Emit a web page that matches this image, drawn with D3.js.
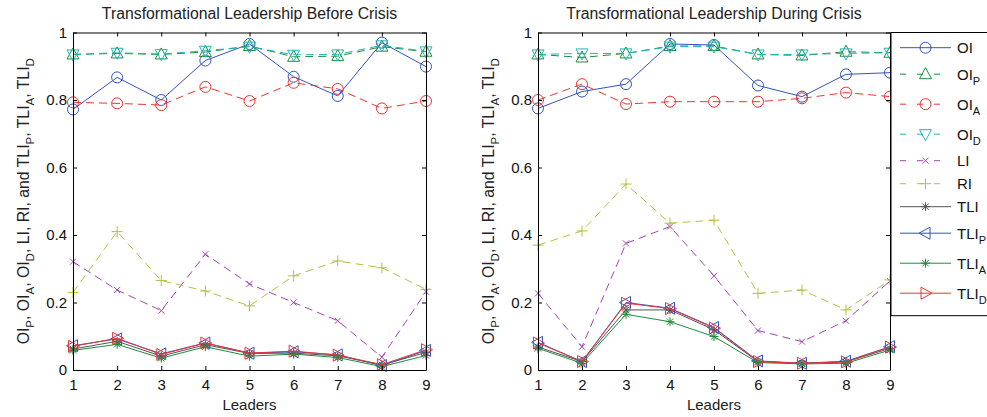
<!DOCTYPE html>
<html>
<head>
<meta charset="utf-8">
<script src="https://cdn.jsdelivr.net/npm/d3@7"></script>
<style>
  html, body { margin: 0; padding: 0; background: #fff; }
  svg { display: block; font-family: "Liberation Sans", Arial, Helvetica, sans-serif; }
</style>
</head>
<body>
<svg id="chart" width="987" height="417"></svg>
<script>
// Leaders on the x axis
const leaders = [1, 2, 3, 4, 5, 6, 7, 8, 9];
const yTicks = [0, 0.2, 0.4, 0.6, 0.8, 1];

// Before crisis
const beforeOI   = [0.772, 0.867, 0.800, 0.917, 0.966, 0.869, 0.812, 0.970, 0.899];
const beforeOIP  = [0.935, 0.938, 0.935, 0.942, 0.960, 0.928, 0.930, 0.958, 0.943];
const beforeOIA  = [0.793, 0.790, 0.785, 0.839, 0.797, 0.851, 0.833, 0.775, 0.797];
const beforeOID  = [0.935, 0.940, 0.936, 0.946, 0.958, 0.934, 0.935, 0.962, 0.944];
const beforeLI   = [0.321, 0.237, 0.176, 0.343, 0.255, 0.200, 0.146, 0.038, 0.232];
const beforeRI   = [0.230, 0.410, 0.265, 0.234, 0.190, 0.279, 0.323, 0.303, 0.239];
const beforeTLI  = [0.062, 0.085, 0.041, 0.075, 0.049, 0.050, 0.042, 0.015, 0.052];
const beforeTLIP = [0.072, 0.092, 0.048, 0.080, 0.050, 0.054, 0.045, 0.013, 0.058];
const beforeTLIA = [0.058, 0.076, 0.035, 0.069, 0.041, 0.047, 0.037, 0.010, 0.043];
const beforeTLID = [0.070, 0.094, 0.046, 0.080, 0.050, 0.056, 0.044, 0.016, 0.060];

// During crisis
const duringOI   = [0.775, 0.825, 0.847, 0.966, 0.963, 0.843, 0.810, 0.876, 0.881];
const duringOIP  = [0.935, 0.926, 0.938, 0.960, 0.960, 0.935, 0.932, 0.943, 0.940];
const duringOIA  = [0.800, 0.847, 0.788, 0.795, 0.795, 0.795, 0.805, 0.822, 0.810];
const duringOID  = [0.935, 0.938, 0.938, 0.958, 0.958, 0.935, 0.935, 0.938, 0.940];
const duringLI   = [0.227, 0.069, 0.375, 0.425, 0.279, 0.117, 0.084, 0.146, 0.264];
const duringRI   = [0.370, 0.412, 0.551, 0.435, 0.444, 0.227, 0.237, 0.178, 0.267];
const duringTLI  = [0.068, 0.025, 0.178, 0.178, 0.119, 0.025, 0.020, 0.024, 0.064];
const duringTLIP = [0.082, 0.025, 0.200, 0.183, 0.126, 0.027, 0.020, 0.026, 0.069];
const duringTLIA = [0.064, 0.020, 0.165, 0.143, 0.099, 0.022, 0.018, 0.020, 0.059];
const duringTLID = [0.080, 0.025, 0.198, 0.182, 0.124, 0.025, 0.020, 0.024, 0.068];

// Series names: [base, subscript]
const seriesNames = [["OI",""],["OI","P"],["OI","A"],["OI","D"],["LI",""],["RI",""],["TLI",""],["TLI","P"],["TLI","A"],["TLI","D"]];

// Drawing styles per series
const styles = [
  { color: "#3352c0", dash: null,  marker: "o" },
  { color: "#1e8c3c", dash: "8,5", marker: "^" },
  { color: "#ee3333", dash: "8,5", marker: "o" },
  { color: "#1fb7b7", dash: "8,5", marker: "v" },
  { color: "#a043b2", dash: "8,5", marker: "x" },
  { color: "#b9bf3c", dash: "8,5", marker: "+" },
  { color: "#555555", dash: null,  marker: "*" },
  { color: "#3352c0", dash: null,  marker: "<" },
  { color: "#1e8c3c", dash: null,  marker: "*" },
  { color: "#ee3333", dash: null,  marker: ">" }
];

const panels = [
  { title: "Transformational Leadership Before Crisis", left: 73, right: 426,
    series: [beforeOI, beforeOIP, beforeOIA, beforeOID, beforeLI, beforeRI, beforeTLI, beforeTLIP, beforeTLIA, beforeTLID] },
  { title: "Transformational Leadership During Crisis", left: 538, right: 890,
    series: [duringOI, duringOIP, duringOIA, duringOID, duringLI, duringRI, duringTLI, duringTLIP, duringTLIA, duringTLID] }
];

const plotTop = 32.5, plotBottom = 370;
const svg = d3.select("#chart");

function markerPath(type) {
  switch (type) {
    case "^": return "M0,-6.5L6,4.5L-6,4.5Z";
    case "v": return "M0,6.5L6,-4.5L-6,-4.5Z";
    case "<": return "M-6.5,0L4.5,-6L4.5,6Z";
    case ">": return "M6.5,0L-4.5,-6L-4.5,6Z";
    case "x": return "M-3,-3L3,3M-3,3L3,-3";
    case "+": return "M-5.5,0L5.5,0M0,-5.5L0,5.5";
    case "*": return "M-4.5,0L4.5,0M0,-4.5L0,4.5M-3.2,-3.2L3.2,3.2M-3.2,3.2L3.2,-3.2";
  }
  return null;
}

function drawMarker(g, type, color, cx, cy) {
  if (type === "o") {
    g.append("circle").attr("cx", cx).attr("cy", cy).attr("r", 5.5)
      .attr("fill", "none").attr("stroke", color).attr("stroke-width", 1);
  } else {
    g.append("path").attr("transform", `translate(${cx},${cy})`)
      .attr("d", markerPath(type)).attr("fill", "none")
      .attr("stroke", color).attr("stroke-width", 1);
  }
}

// Writes text parts with subscripts; the baseline is restored on the following part
function addLabel(sel, parts, baseSize, subSize, subShift) {
  let lowered = false;
  parts.forEach(([base, sub]) => {
    const b = sel.append("tspan").attr("font-size", baseSize).text(base);
    if (lowered) { b.attr("dy", -subShift); lowered = false; }
    if (sub) {
      sel.append("tspan").attr("font-size", subSize).attr("dy", subShift).text(sub);
      lowered = true;
    }
  });
}

panels.forEach(p => {
  const x = d3.scaleLinear().domain([1, 9]).range([p.left, p.right]);
  const y = d3.scaleLinear().domain([0, 1]).range([plotBottom, plotTop]);
  const g = svg.append("g");

  // series
  const line = d3.line().x((d, i) => x(leaders[i])).y(d => y(d));
  p.series.forEach((vals, si) => {
    const st = styles[si];
    const sg = g.append("g");
    sg.append("path").datum(vals).attr("d", line).attr("fill", "none")
      .attr("stroke", st.color).attr("stroke-width", 1)
      .attr("stroke-dasharray", st.dash);
    vals.forEach((v, i) => drawMarker(sg, st.marker, st.color, x(leaders[i]), y(v)));
  });

  // frame and axes
  const axisStyle = a => a.tickSizeOuter(0).tickSizeInner(-4);
  const gb = g.append("g").attr("transform", `translate(0,${plotBottom})`)
    .call(axisStyle(d3.axisBottom(x).tickValues(leaders).tickFormat(d3.format("d"))).tickPadding(9));
  const gl = g.append("g").attr("transform", `translate(${p.left},0)`)
    .call(axisStyle(d3.axisLeft(y).tickValues(yTicks).tickFormat(d => d === 0 || d === 1 ? d3.format("d")(d) : d3.format(".1f")(d))).tickPadding(6));
  const gt = g.append("g").attr("transform", `translate(0,${plotTop})`)
    .call(axisStyle(d3.axisTop(x).tickValues(leaders).tickFormat("")));
  const gr = g.append("g").attr("transform", `translate(${p.right},0)`)
    .call(axisStyle(d3.axisRight(y).tickValues(yTicks).tickFormat("")));
  [gb, gl, gt, gr].forEach(a => {
    a.selectAll("path.domain").attr("stroke", "#000").attr("stroke-width", 1);
    a.selectAll("line").attr("stroke", "#000");
    a.selectAll("text").attr("font-size", 15).attr("fill", "#111")
      .attr("font-family", "'Liberation Sans', Arial, sans-serif");
  });

  // title
  g.append("text").attr("x", (p.left + p.right) / 2).attr("y", 19)
    .attr("text-anchor", "middle").attr("font-size", 15.8).attr("fill", "#222")
    .text(p.title);

  // x label
  g.append("text").attr("x", (p.left + p.right) / 2).attr("y", 410)
    .attr("text-anchor", "middle").attr("font-size", 15).attr("fill", "#222")
    .text("Leaders");

  // y label
  const yl = g.append("text")
    .attr("transform", `translate(${p.left - 44},${(plotTop + plotBottom) / 2}) rotate(-90)`)
    .attr("text-anchor", "middle").attr("fill", "#222");
  const labelParts = [["OI","P"],[", OI","A"],[", OI","D"],[", LI, RI, and TLI","P"],[", TLI","A"],[", TLI","D"]];
  addLabel(yl, labelParts, 15.8, 11.5, 5);
});

// legend
const legX = 891, legTop = 32.5, legBottom = 315.7;
const leg = svg.append("g");
leg.append("rect").attr("x", legX).attr("y", legTop).attr("width", 120).attr("height", legBottom - legTop)
  .attr("fill", "#fff").attr("stroke", "#000").attr("stroke-width", 1);
let rowY = legTop + 3.7;
seriesNames.forEach((nm, i) => {
  const h = nm[1] ? 30 : 23;
  const yy = rowY + (i === 0 ? 11.5 : h / 2);
  const st = styles[i];
  leg.append("line").attr("x1", 900).attr("x2", 951).attr("y1", yy).attr("y2", yy)
    .attr("stroke", st.color).attr("stroke-width", 1).attr("stroke-dasharray", st.dash ? "6,11" : null);
  drawMarker(leg, st.marker, st.color, 925.5, yy);
  const t = leg.append("text").attr("x", 957).attr("y", yy + 5.5).attr("fill", "#111");
  addLabel(t, [nm], 15, 11, 5);
  rowY = yy + h / 2;
});
</script>
</body>
</html>
